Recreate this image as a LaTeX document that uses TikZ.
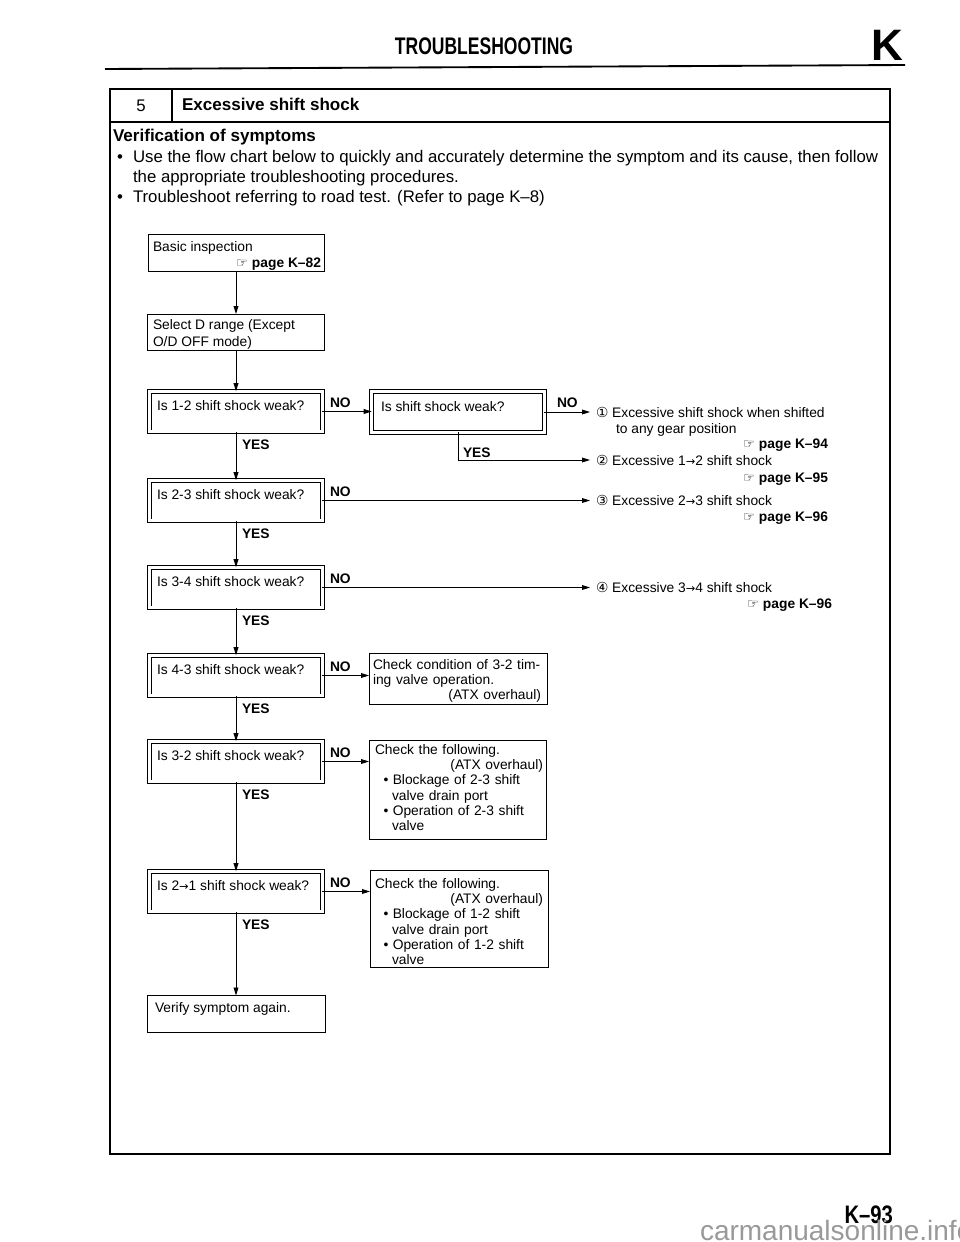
\documentclass[tikz,border=0pt]{standalone}
\usepackage{fontspec}
\setmainfont{Liberation Sans}
\newfontfamily\hdfont{Liberation Sans}[FakeStretch=0.8]
\newfontfamily\ttlfont{Liberation Sans}[FakeStretch=0.73]
\newfontfamily\symfont{DejaVu Sans}
\usetikzlibrary{arrows.meta}
\definecolor{wmgray}{gray}{0.6}
\newcommand{\fsbody}{\fontsize{12.6pt}{15pt}\selectfont}
\newcommand{\fshead}{\fontsize{12.8pt}{15pt}\selectfont\bfseries}
\newcommand{\fssm}{\fontsize{10.35pt}{11.5pt}\selectfont}
\newcommand{\hand}{{\symfont\fontsize{10pt}{10pt}\selectfont ☞}}
\newcommand{\cnum}[1]{{\symfont #1}}
\newcommand{\rarr}{{\symfont\fontsize{8.5pt}{8.5pt}\selectfont →}}
\begin{document}
\begin{tikzpicture}[x=0.75pt,y=-0.75pt,
  every node/.style={inner sep=0pt,outer sep=0pt},
  pbox/.style={draw,line width=0.75pt},
  dbox/.style={draw,double,line width=0.55pt,double distance=2.3pt,minimum width=129.4pt,minimum height=30.4pt},
  conn/.style={line width=0.7pt},
  arr/.style={conn,-{Triangle[length=6pt,width=3.6pt]}},
  lbl/.style={font=\fssm\bfseries,anchor=base west},
  txt/.style={font=\fssm,anchor=base west},
  rtxt/.style={font=\fssm,anchor=base east},
  mtxt/.style={font=\fssm,anchor=base west,align=left,text width=126pt},
  btxt/.style={font=\fsbody,anchor=base west}]
\useasboundingbox (0,0) rectangle (960,1242);

% page header
\node[font=\ttlfont\bfseries\fontsize{18pt}{18pt}\selectfont,anchor=base] (title) at (484,54) {TROUBLESHOOTING};
\node[font=\bfseries\fontsize{33pt}{33pt}\selectfont,anchor=base east] (kk) at (903,60) {K};
\draw[line width=1.4pt] (105,69) -- (905,65);

% frame
\draw[line width=1pt] (110,89) rectangle (890,1154);
\draw[line width=1pt] (110,122) -- (890,122);
\draw[line width=1pt] (172,89) -- (172,122);
\node[font=\fsbody,anchor=base] (num) at (141,111) {5};
\node[font=\fshead,anchor=base west] (sec) at (182,110) {Excessive shift shock};
\node[font=\fshead,anchor=base west] (verh) at (113,141) {Verification of symptoms};
\node[font=\fsbody,anchor=base] (b1) at (120,162) {\textbullet};
\node[btxt] (l1) at (133,162) {Use the flow chart below to quickly and accurately determine the symptom and its cause, then follow};
\node[btxt] (l2) at (133,182) {the appropriate troubleshooting procedures.};
\node[font=\fsbody,anchor=base] (b2) at (120,202) {\textbullet};
\node[btxt] (l3) at (133,202) {Troubleshoot referring to road test. (Refer to page K–8)};

% flow chart boxes
\node[pbox,minimum width=132pt,minimum height=27.75pt] (basic) at (236,252.5) {};
\node[txt] (basict) at (153,251) {Basic inspection};
\node[rtxt] (basicp) at (321,267) {\hand\ \textbf{page K–82}};

\node[pbox,minimum width=132.75pt,minimum height=27pt] (sel) at (236,332) {};
\node[txt] (selt1) at (153,329) {Select D range (Except};
\node[txt] (selt2) at (153,346) {O/D OFF mode)};

\node[dbox] (d1) at (236,411.5) {};
\node[txt] (d1t) at (157,410) {Is 1-2 shift shock weak?};
\node[dbox] (d1b) at (458,412) {};
\node[txt] (d1bt) at (381,411) {Is shift shock weak?};
\node[dbox] (d2) at (236,500.5) {};
\node[txt] (d2t) at (157,499) {Is 2-3 shift shock weak?};
\node[dbox] (d3) at (236,587.5) {};
\node[txt] (d3t) at (157,586) {Is 3-4 shift shock weak?};
\node[dbox] (d4) at (236,675.5) {};
\node[txt] (d4t) at (157,674) {Is 4-3 shift shock weak?};
\node[dbox] (d5) at (236,761.5) {};
\node[txt] (d5t) at (157,760) {Is 3-2 shift shock weak?};
\node[dbox] (d6) at (236,891.5) {};
\node[txt] (d6t) at (157,890) {Is 2\rarr1 shift shock weak?};

\node[pbox,minimum width=133.5pt,minimum height=27.75pt] (ver) at (236,1014) {};
\node[txt] (vert) at (155,1012) {Verify symptom again.};

\node[pbox,minimum width=133.5pt,minimum height=38.25pt] (c1) at (458,678.5) {};
\node[mtxt] (c1t) at (373,669) {Check condition of 3-2 tim-\\ing valve operation.\\\hspace*{\fill}(ATX overhaul)};
\node[pbox,minimum width=132.75pt,minimum height=74.25pt] (c2) at (457.5,789.5) {};
\node[mtxt] (c2t) at (375,754) {Check the following.\\\hspace*{\fill}(ATX overhaul)\\\hspace*{6.5pt}\textbullet\hspace{3.2pt}Blockage of 2-3 shift\\\hspace*{12.75pt}valve drain port\\\hspace*{6.5pt}\textbullet\hspace{3.2pt}Operation of 2-3 shift\\\hspace*{12.75pt}valve};
\node[pbox,minimum width=133.5pt,minimum height=72.75pt] (c3) at (459,918.5) {};
\node[mtxt] (c3t) at (375,888) {Check the following.\\\hspace*{\fill}(ATX overhaul)\\\hspace*{6.5pt}\textbullet\hspace{3.2pt}Blockage of 1-2 shift\\\hspace*{12.75pt}valve drain port\\\hspace*{6.5pt}\textbullet\hspace{3.2pt}Operation of 1-2 shift\\\hspace*{12.75pt}valve};

% right-hand results
\coordinate (r1) at (590,412);
\coordinate (r2) at (590,460);
\coordinate (r3) at (590,500);
\coordinate (r4) at (590,587);
\node[txt] (res1) at (596,417) {\cnum{①} Excessive shift shock when shifted};
\node[txt] (res1b) at (616,433) {to any gear position};
\node[rtxt] (res1p) at (828,448) {\hand\ \textbf{page K–94}};
\node[txt] (res2) at (596,465) {\cnum{②} Excessive 1\rarr2 shift shock};
\node[rtxt] (res2p) at (828,482) {\hand\ \textbf{page K–95}};
\node[txt] (res3) at (596,505) {\cnum{③} Excessive 2\rarr3 shift shock};
\node[rtxt] (res3p) at (828,521) {\hand\ \textbf{page K–96}};
\node[txt] (res4) at (596,592) {\cnum{④} Excessive 3\rarr4 shift shock};
\node[rtxt] (res4p) at (832,608) {\hand\ \textbf{page K–96}};

% connectors
\draw[arr] (basic) -- (sel);
\draw[arr] (sel) -- (d1);
\draw[arr] (d1) -- (d2);
\draw[arr] (d2) -- (d3);
\draw[arr] (d3) -- (d4);
\draw[arr] (d4) -- (d5);
\draw[arr] (d5) -- (d6);
\draw[arr] (d6) -- (ver);
\draw[arr] (d1.east) -- (d1.east -| d1b.west);
\draw[arr] (d1b.east) -- (d1b.east -| r1);
\draw[arr] (d1b.south) |- (r2);
\draw[arr] (d2.east) -- (d2.east -| r3);
\draw[arr] (d3.east) -- (d3.east -| r4);
\draw[arr] (d4.east) -- (d4.east -| c1.west);
\draw[arr] (d5.east) -- (d5.east -| c2.west);
\draw[arr] (d6.east) -- (d6.east -| c3.west);

% connector labels
\node[lbl] (no1) at (330,407) {NO};
\node[lbl] (no1b) at (557,407) {NO};
\node[lbl] (no2) at (330,496) {NO};
\node[lbl] (no3) at (330,583) {NO};
\node[lbl] (no4) at (330,671) {NO};
\node[lbl] (no5) at (330,757) {NO};
\node[lbl] (no6) at (330,887) {NO};
\node[lbl] (yes1) at (242,449) {YES};
\node[lbl] (yes1b) at (463,457) {YES};
\node[lbl] (yes2) at (242,538) {YES};
\node[lbl] (yes3) at (242,625) {YES};
\node[lbl] (yes4) at (242,713) {YES};
\node[lbl] (yes5) at (242,799) {YES};
\node[lbl] (yes6) at (242,929) {YES};

% footer
\node[font=\hdfont\bfseries\fontsize{19pt}{19pt}\selectfont,anchor=base east] (pg) at (893,1223) {K–93};
\node[font=\fontsize{21pt}{21pt}\selectfont,text=wmgray,anchor=base west] (wm) at (700,1240) {carmanualsonline.info};
\end{tikzpicture}
\end{document}
